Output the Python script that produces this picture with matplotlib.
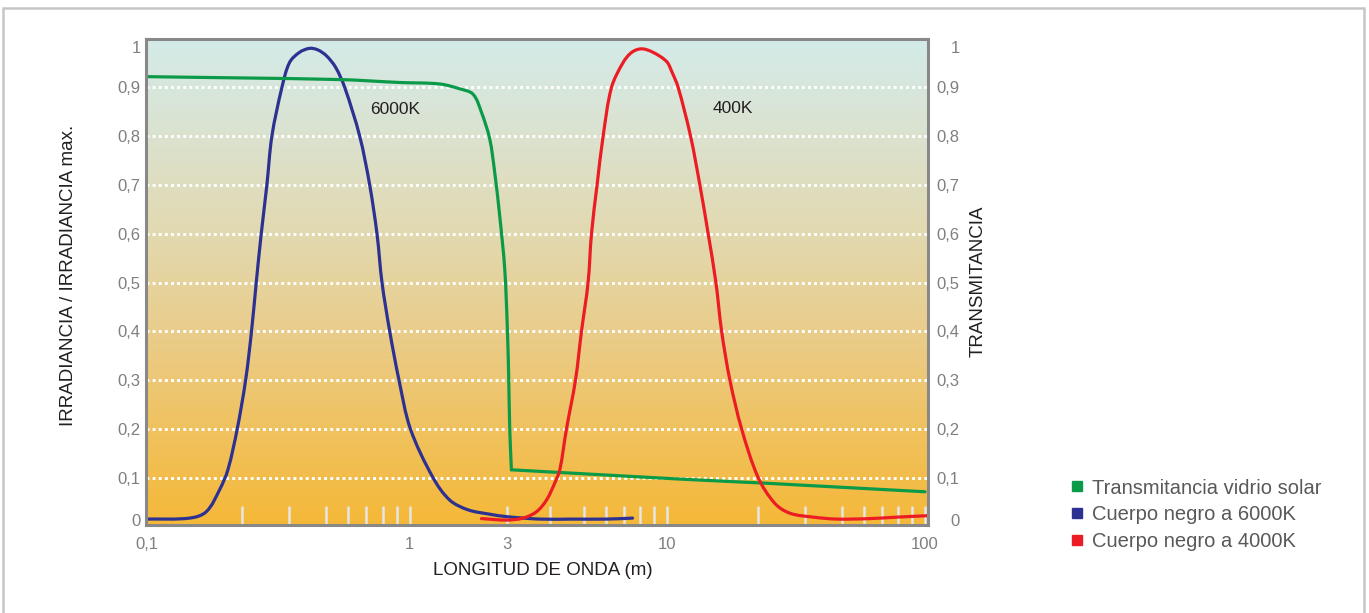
import numpy as np
import matplotlib
matplotlib.use("Agg")
from matplotlib import pyplot as plt
from matplotlib import patches
from matplotlib.path import Path
from matplotlib.colors import LinearSegmentedColormap
from matplotlib.lines import Line2D

plt.rcParams['font.family'] = ['Liberation Sans', 'DejaVu Sans']

# wavelength (x) and relative value (y)
blue_x = [0.1, 0.1644, 0.1994, 0.2326, 0.2561, 0.2854, 0.3075, 0.3187, 0.3280, 0.3381,
          0.3499, 0.3607, 0.3834, 0.4016, 0.4269, 0.4536, 0.4763, 0.5029, 0.5430, 0.5851,
          0.6622, 0.7191, 0.7636, 0.7959, 0.8482, 0.9156, 1.008, 1.302, 1.573, 1.936,
          2.475, 2.99, 3.735, 4.647, 6.044, 7.51]
blue_y = [0.015, 0.017, 0.030, 0.075, 0.116, 0.2, 0.3, 0.4, 0.5, 0.6,
          0.7, 0.8, 0.9, 0.951, 0.972, 0.98, 0.977, 0.965, 0.941, 0.9,
          0.8, 0.7, 0.6, 0.5, 0.4, 0.3, 0.2, 0.1, 0.054, 0.034,
          0.025, 0.020, 0.015, 0.015, 0.015, 0.017]

green_x = [0.1, 0.5613, 0.921, 1.405, 1.762, 2.048, 2.253, 2.475, 2.619, 2.771,
           2.933, 3.014, 3.040, 3.060, 3.094, 11.70, 24.13, 30.69, 100]
green_y = [0.922, 0.916, 0.910, 0.907, 0.897, 0.886, 0.849, 0.794, 0.725, 0.636,
           0.527, 0.4, 0.3, 0.2, 0.116, 0.097, 0.091, 0.089, 0.071]
green_corner = 14  # sharp bend at the foot of the drop

red_x = [2.253, 2.99, 3.343, 3.653, 3.904, 4.125, 4.264, 4.458, 4.732, 4.924,
         5.182, 5.331, 5.586, 5.875, 6.302, 6.942, 7.466, 8.096, 8.899, 9.977,
         10.62, 11.46, 13.31, 14.89, 16.46, 18.07, 19.36, 21.39, 24.64, 30.05,
         33.27, 36.44, 42.00, 48.42, 63.17, 78.96, 102.5]
red_y = [0.016, 0.013, 0.017, 0.030, 0.054, 0.089, 0.116, 0.2, 0.3, 0.4,
         0.5, 0.6, 0.7, 0.8, 0.9, 0.951, 0.972, 0.979, 0.972, 0.953,
         0.932, 0.9, 0.8, 0.7, 0.6, 0.5, 0.4, 0.3, 0.2, 0.1,
         0.047, 0.027, 0.019, 0.015, 0.016, 0.019, 0.022]

x_major = [0.1, 1, 3, 10, 100]
x_labels = ["0,1", "1", "3", "10", "100"]
x_minor = [0.3, 0.4, 0.5, 0.6, 0.7, 0.8, 0.9, 1,
           3, 4, 5, 6, 7, 8, 9, 10,
           30, 40, 50, 60, 70, 80, 90, 100]
y_labels = ["0", "0,1", "0,2", "0,3", "0,4", "0,5", "0,6", "0,7", "0,8", "0,9", "1"]
grid_vals = [0.1, 0.2, 0.3, 0.4, 0.5, 0.6, 0.7, 0.8, 0.9]

legend_labels = ["Transmitancia vidrio solar", "Cuerpo negro a 6000K", "Cuerpo negro a 4000K"]
c_green, c_blue, c_red = "#0b9b48", "#2c3192", "#ec1c24"

# the original axis is a hand-drawn "log" axis, decades are not evenly spaced
anchor_vals = np.log10([0.01, 0.1, 0.3, 0.5, 1, 3, 5, 10, 30, 50, 100, 1000])
anchor_pos = np.array([-52, 147, 242, 326, 410, 507, 584, 667, 758, 842, 925, 1201], float)
Y_UNIT = 488.0  # rough screen units per 1.0 on y, only used to keep curves round


def fwd(x):
    x = np.asarray(x, float)
    return np.interp(np.log10(np.where(x > 0, x, 1e-6)), anchor_vals, anchor_pos)


def inv(p):
    return 10 ** np.interp(np.asarray(p, float), anchor_pos, anchor_vals)


def smooth_curve(ax, xs, ys, **kw):
    # bezier through the read points, tangents taken from neighbours
    px = fwd(xs)
    py = np.asarray(ys, float) * Y_UNIT
    pts = np.column_stack([px, py])
    n = len(pts)
    tang = np.zeros_like(pts)
    for i in range(n):
        d = pts[min(i + 1, n - 1)] - pts[max(i - 1, 0)]
        tang[i] = d / (np.hypot(*d) or 1)
    verts = [pts[0]]
    codes = [Path.MOVETO]
    for i in range(n - 1):
        L = np.hypot(*(pts[i + 1] - pts[i])) / 3
        verts += [pts[i] + tang[i] * L, pts[i + 1] - tang[i + 1] * L, pts[i + 1]]
        codes += [Path.CURVE4] * 3
    verts = np.array(verts)
    verts = np.column_stack([inv(verts[:, 0]), verts[:, 1] / Y_UNIT])
    patch = patches.PathPatch(Path(verts, codes), fill=False, transform=ax.transData,
                              capstyle="round", joinstyle="round", **kw)
    ax.add_patch(patch)
    return patch


fig = plt.figure(figsize=(13.69, 6.13), dpi=100)
ax = fig.add_axes([0.10701, 0.14405, 0.57086, 0.79298])

# gradient background
cmap = LinearSegmentedColormap.from_list("bg", [
    (0.0, "#f5b838"), (0.2, "#f0c260"), (0.4, "#e9cd8c"),
    (0.6, "#e2d9b0"), (0.8, "#dbe2cf"), (1.0, "#d4ebe9")])
grad = np.linspace(0, 1, 256).reshape(-1, 1)
ax.imshow(grad, extent=[0, 1, 0, 1], transform=ax.transAxes, aspect="auto",
          cmap=cmap, origin="lower", zorder=0, interpolation="bilinear")

ax.set_xscale("function", functions=(fwd, inv))
ax.set_xlim(0.1, 102.5)
ax.set_ylim(0.0035, 1.0)

for v in grid_vals:
    ax.axhline(v, color="white", lw=2.1, ls=(0, (1, 1.1)), zorder=1)

smooth_curve(ax, blue_x, blue_y, ec=c_blue, lw=2.3, zorder=3)
smooth_curve(ax, green_x[:green_corner + 1], green_y[:green_corner + 1], ec=c_green, lw=2.3, zorder=3)
ax.plot(green_x[green_corner:], green_y[green_corner:], color=c_green, lw=2.3,
        solid_joinstyle="round", solid_capstyle="round", zorder=3)
smooth_curve(ax, red_x, red_y, ec=c_red, lw=2.3, zorder=3)

ax.text(0.884, 0.855, "6000K", ha="center", va="center", fontsize=12.5, color="#231f20")
ax.text(22.2, 0.857, "400K", ha="center", va="center", fontsize=12.5, color="#231f20")

ax.set_xlim(0.1, 102.5)
ax.set_ylim(0.0035, 1.0)

ax.set_xticks(x_major)
ax.set_xticklabels(x_labels)
ax.set_xticks(x_minor, minor=True)
ax.xaxis.remove_overlapping_locs = False
ax.tick_params(axis="x", which="major", length=0, pad=8.6, labelsize=12, labelcolor="#7f7f7f")
ax.tick_params(axis="x", which="minor", direction="in", length=14, width=1.8, color="#e6e6e6")

# label positions for 0 and 1 sit a little inside the frame, as in the original
y_pos = [0.013] + grid_vals + [0.983]
ax.set_yticks(y_pos)
ax.set_yticklabels(y_labels)
ax.tick_params(axis="y", length=0, pad=4.3, labelsize=12, labelcolor="#7f7f7f")

for s in ax.spines.values():
    s.set_color("#888888")
    s.set_linewidth(2.2)
    s.set_zorder(4)

ax2 = ax.twinx()
ax2.set_ylim(ax.get_ylim())
ax2.set_yticks(y_pos)
ax2.set_yticklabels(y_labels)
ax2.tick_params(axis="y", length=0, pad=22.8, labelsize=12, labelcolor="#7f7f7f")
for lab in ax2.get_yticklabels():
    lab.set_ha("right")
for s in ax2.spines.values():
    s.set_visible(False)

ax.set_xlabel("LONGITUD DE ONDA (m)", fontsize=13.5, color="#231f20", va="center")
ax.xaxis.set_label_coords(0.5067, -0.0952)
ax.set_ylabel("IRRADIANCIA / IRRADIANCIA max.", fontsize=13.5, color="#231f20", va="center")
ax.yaxis.set_label_coords(-0.1004, 0.512)
ax2.set_ylabel("TRANSMITANCIA", fontsize=13.5, color="#231f20", va="center", rotation=90)
ax2.yaxis.set_label_coords(1.064, 0.501)

handles = [Line2D([], [], marker="s", ls="none", color=c, markersize=6.5)
           for c in (c_green, c_blue, c_red)]
fig.legend(handles, legend_labels, loc="upper left", bbox_to_anchor=(0.783, 0.2194),
           frameon=False, fontsize=14.5, handlelength=0.5, handletextpad=0.5,
           labelspacing=0.39, borderaxespad=0, borderpad=0, labelcolor="#58595b")

# outer light grey frame
fig.add_artist(patches.Rectangle((3 / 1369, -0.1), 1361 / 1369, 1.1 - 8 / 613,
                                 transform=fig.transFigure, fill=False,
                                 ec="#c6c6c6", lw=1.8))

fig.savefig("out.png", dpi=100)
